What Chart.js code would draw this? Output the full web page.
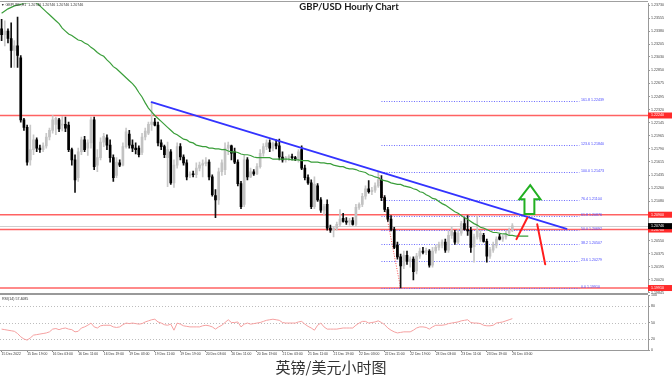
<!DOCTYPE html>
<html>
<head>
<meta charset="utf-8">
<script src="https://cdn.jsdelivr.net/npm/chart.js@4.4.1/dist/chart.umd.min.js"></script>
<style>
  body { margin: 0; background: #fff; }
  #wrap { position: relative; width: 672px; height: 385px; overflow: hidden; background: #fff; }
  #main { position: absolute; left: 0; top: 0; }
  #rsi { position: absolute; left: 0; top: 288px; }
  #title { position: absolute; top: 2px; left: 349px; transform: translateX(-50%); font: bold 9.5px Lato, sans-serif; line-height: 10px; color: #1a1a1a; white-space: nowrap; }
  #caption { position: absolute; top: 358px; left: 331px; transform: translateX(-50%); font: 15px "Noto Sans CJK SC", sans-serif; line-height: 18px; color: #333; white-space: nowrap; }
</style>
</head>
<body>
<div id="wrap">
  <canvas id="main" width="672" height="296"></canvas>
  <canvas id="rsi" width="672" height="70"></canvas>
  <div id="title">GBP/USD Hourly Chart</div>
  <div id="caption">英镑/美元小时图</div>
</div>
<script>
// hourly bars, 15 Dec 11:00 .. 26 Dec 03:00, plus empty room on the right
const SLOTS = 203;
const xTickLabels = ['15 Dec 2022', '15 Dec 19:00', '16 Dec 03:00', '16 Dec 11:00', '16 Dec 19:00',
  '19 Dec 03:00', '19 Dec 11:00', '19 Dec 19:00', '20 Dec 03:00', '20 Dec 11:00', '20 Dec 19:00',
  '21 Dec 03:00', '21 Dec 11:00', '21 Dec 19:00', '22 Dec 03:00', '22 Dec 11:00', '22 Dec 19:00',
  '23 Dec 03:00', '23 Dec 11:00', '23 Dec 19:00', '26 Dec 03:00'];

const opens = [
  1.2341,1.2333,1.2338,1.2328,1.2312,1.2318,1.2302,1.2218,1.2208,1.2164,
  1.2178,1.2191,1.2180,1.2178,1.2183,1.2195,1.2204,1.2212,1.2218,1.2211,
  1.2212,1.2211,1.2178,1.2164,1.2140,1.2175,1.2191,1.2180,1.2187,1.2218,
  1.2157,1.2167,1.2188,1.2194,1.2184,1.2167,1.2143,1.2160,1.2157,1.2182,
  1.2199,1.2184,1.2180,1.2180,1.2174,1.2195,1.2200,1.2212,1.2215,1.2211,
  1.2187,1.2182,1.2167,1.2175,1.2133,1.2157,1.2182,1.2168,1.2160,1.2143,
  1.2145,1.2144,1.2153,1.2157,1.2159,1.2161,1.2141,1.2116,1.2110,1.2148,
  1.2151,1.2180,1.2183,1.2175,1.2161,1.2132,1.2104,1.2164,1.2141,1.2148,
  1.2145,1.2155,1.2173,1.2182,1.2187,1.2180,1.2186,1.2183,1.2168,1.2164,
  1.2167,1.2168,1.2167,1.2165,1.2178,1.2153,1.2140,1.2133,1.2101,1.2129,
  1.2110,1.2096,1.2104,1.2072,1.2069,1.2072,1.2077,1.2085,1.2081,1.2080,
  1.2082,1.2077,1.2100,1.2104,1.2115,1.2125,1.2121,1.2123,1.2129,1.2137,
  1.2113,1.2097,1.2084,1.2070,1.2049,1.2033,1.2021,1.2035,1.2027,1.2030,
  1.2014,1.2034,1.2041,1.2039,1.2041,1.2022,1.2041,1.2046,1.2049,1.2053,
  1.2042,1.2062,1.2066,1.2053,1.2065,1.2078,1.2070,1.2069,1.2047,1.2060,
  1.2057,1.2062,1.2054,1.2034,1.2042,1.2049,1.2060,1.2057,1.2060,1.2065,
  1.2070];
const highs = [
  1.2354,1.2352,1.2341,1.2349,1.2325,1.2357,1.2305,1.2220,1.2211,1.2211,
  1.2198,1.2194,1.2184,1.2187,1.2200,1.2207,1.2224,1.2222,1.2220,1.2223,
  1.2222,1.2215,1.2180,1.2171,1.2180,1.2195,1.2196,1.2191,1.2222,1.2222,
  1.2178,1.2194,1.2200,1.2198,1.2191,1.2171,1.2167,1.2164,1.2187,1.2207,
  1.2204,1.2191,1.2187,1.2183,1.2200,1.2207,1.2215,1.2242,1.2220,1.2215,
  1.2191,1.2184,1.2188,1.2178,1.2164,1.2187,1.2186,1.2171,1.2164,1.2148,
  1.2149,1.2160,1.2161,1.2164,1.2167,1.2164,1.2144,1.2124,1.2153,1.2164,
  1.2187,1.2188,1.2184,1.2180,1.2164,1.2135,1.2171,1.2167,1.2153,1.2151,
  1.2159,1.2178,1.2186,1.2191,1.2191,1.2188,1.2191,1.2192,1.2175,1.2169,
  1.2171,1.2172,1.2169,1.2178,1.2183,1.2157,1.2144,1.2137,1.2141,1.2132,
  1.2113,1.2104,1.2110,1.2076,1.2074,1.2080,1.2097,1.2092,1.2086,1.2085,
  1.2086,1.2104,1.2106,1.2119,1.2129,1.2136,1.2127,1.2133,1.2148,1.2143,
  1.2116,1.2100,1.2089,1.2073,1.2053,1.2037,1.2041,1.2041,1.2033,1.2033,
  1.2038,1.2045,1.2046,1.2045,1.2043,1.2046,1.2049,1.2053,1.2056,1.2057,
  1.2068,1.2073,1.2069,1.2070,1.2081,1.2086,1.2089,1.2073,1.2064,1.2088,
  1.2069,1.2065,1.2057,1.2046,1.2053,1.2060,1.2064,1.2062,1.2068,1.2072,
  1.2078];
const lows = [
  1.2325,1.2318,1.2322,1.2289,1.2289,1.2289,1.2215,1.2204,1.2157,1.2157,
  1.2171,1.2175,1.2174,1.2175,1.2180,1.2191,1.2200,1.2198,1.2202,1.2203,
  1.2202,1.2175,1.2157,1.2120,1.2135,1.2171,1.2175,1.2170,1.2180,1.2151,
  1.2148,1.2164,1.2182,1.2178,1.2161,1.2135,1.2140,1.2155,1.2156,1.2180,
  1.2180,1.2175,1.2172,1.2168,1.2171,1.2191,1.2198,1.2204,1.2210,1.2183,
  1.2178,1.2167,1.2128,1.2131,1.2127,1.2153,1.2164,1.2157,1.2137,1.2140,
  1.2141,1.2140,1.2149,1.2141,1.2156,1.2137,1.2115,1.2086,1.2104,1.2143,
  1.2144,1.2171,1.2164,1.2159,1.2129,1.2098,1.2101,1.2137,1.2140,1.2143,
  1.2144,1.2153,1.2169,1.2178,1.2175,1.2176,1.2179,1.2164,1.2161,1.2161,
  1.2163,1.2164,1.2163,1.2161,1.2151,1.2137,1.2131,1.2098,1.2098,1.2108,
  1.2093,1.2090,1.2069,1.2066,1.2060,1.2069,1.2074,1.2080,1.2077,1.2076,
  1.2076,1.2074,1.2097,1.2101,1.2111,1.2119,1.2117,1.2120,1.2127,1.2109,
  1.2094,1.2081,1.2068,1.2044,1.2030,1.1991,1.2017,1.2023,1.2019,1.2002,
  1.2010,1.2031,1.2037,1.2036,1.2019,1.2019,1.2038,1.2042,1.2045,1.2039,
  1.2039,1.2058,1.2050,1.2051,1.2062,1.2069,1.2062,1.2039,1.2026,1.2057,
  1.2054,1.2053,1.2026,1.2031,1.2039,1.2045,1.2056,1.2054,1.2057,1.2062,
  1.2067];
const closes = [
  1.2333,1.2338,1.2328,1.2312,1.2318,1.2305,1.2218,1.2208,1.2161,1.2178,
  1.2191,1.2180,1.2178,1.2183,1.2195,1.2204,1.2218,1.2220,1.2206,1.2212,
  1.2207,1.2178,1.2164,1.2137,1.2175,1.2191,1.2178,1.2187,1.2218,1.2155,
  1.2167,1.2188,1.2196,1.2184,1.2167,1.2140,1.2161,1.2157,1.2182,1.2202,
  1.2184,1.2180,1.2178,1.2171,1.2195,1.2203,1.2212,1.2215,1.2211,1.2187,
  1.2182,1.2171,1.2178,1.2133,1.2157,1.2182,1.2168,1.2160,1.2141,1.2145,
  1.2144,1.2153,1.2157,1.2159,1.2161,1.2141,1.2117,1.2110,1.2148,1.2160,
  1.2180,1.2184,1.2173,1.2161,1.2132,1.2101,1.2164,1.2141,1.2148,1.2145,
  1.2155,1.2173,1.2182,1.2187,1.2180,1.2186,1.2183,1.2168,1.2164,1.2167,
  1.2168,1.2167,1.2165,1.2175,1.2153,1.2140,1.2133,1.2101,1.2131,1.2110,
  1.2096,1.2101,1.2072,1.2069,1.2072,1.2077,1.2084,1.2081,1.2080,1.2082,
  1.2077,1.2100,1.2104,1.2115,1.2125,1.2121,1.2123,1.2129,1.2137,1.2113,
  1.2097,1.2084,1.2070,1.2046,1.2033,1.2021,1.2035,1.2027,1.2030,1.2013,
  1.2034,1.2041,1.2039,1.2042,1.2022,1.2041,1.2046,1.2050,1.2053,1.2042,
  1.2062,1.2069,1.2053,1.2065,1.2078,1.2070,1.2068,1.2046,1.2060,1.2069,
  1.2065,1.2054,1.2034,1.2043,1.2050,1.2057,1.2057,1.2060,1.2064,1.2069,
  1.2075];

// green moving average (runs a few bars past the last candle)
const maValues = [
  1.2362,1.2365,1.2368,1.2370,1.2372,1.2373,1.2374,1.2376,1.2376,1.2377,
  1.2377,1.2376,1.2372,1.2368,1.2364,1.2360,1.2356,1.2352,1.2348,1.2342,
  1.2338,1.2334,1.2332,1.2329,1.2326,1.2325,1.2322,1.2320,1.2316,1.2313,
  1.2309,1.2306,1.2304,1.2299,1.2295,1.2290,1.2287,1.2283,1.2279,1.2275,
  1.2271,1.2267,1.2262,1.2255,1.2249,1.2241,1.2234,1.2229,1.2224,1.2220,
  1.2216,1.2212,1.2208,1.2204,1.2200,1.2198,1.2195,1.2192,1.2191,1.2188,
  1.2187,1.2184,1.2183,1.2182,1.2182,1.2180,1.2180,1.2179,1.2179,1.2178,
  1.2178,1.2176,1.2175,1.2175,1.2174,1.2172,1.2171,1.2171,1.2170,1.2168,
  1.2167,1.2167,1.2167,1.2167,1.2167,1.2165,1.2165,1.2165,1.2165,1.2165,
  1.2165,1.2164,1.2164,1.2164,1.2163,1.2163,1.2163,1.2161,1.2161,1.2161,
  1.2160,1.2160,1.2159,1.2159,1.2157,1.2156,1.2155,1.2155,1.2153,1.2152,
  1.2152,1.2151,1.2149,1.2148,1.2147,1.2144,1.2143,1.2141,1.2140,1.2137,
  1.2136,1.2135,1.2133,1.2132,1.2131,1.2131,1.2129,1.2128,1.2127,1.2125,
  1.2124,1.2121,1.2120,1.2117,1.2115,1.2112,1.2111,1.2108,1.2105,1.2103,
  1.2100,1.2097,1.2094,1.2092,1.2089,1.2086,1.2084,1.2081,1.2078,1.2076,
  1.2073,1.2072,1.2070,1.2068,1.2066,1.2066,1.2065,1.2064,1.2064,1.2062,
  1.2062,1.2061,1.2061,1.2061,1.2061,1.2061];

const rsiValues = [
  38,37,36,35,34,30,24,20,18,22,
  27,28,29,30,31,33,38,39,37,39,
  40,38,37,33,34,40,42,45,49,42,
  40,44,45,45,45,42,41,42,46,49,
  48,49,48,47,48,51,53,55,56,51,
  49,46,45,47,36,49,47,44,43,42,
  42,42,42,44,45,44,42,38,42,45,
  50,55,50,50,51,42,47,49,47,48,
  49,50,52,54,55,56,55,54,50,49,
  49,49,49,51,52,47,43,40,36,45,
  49,42,38,38,38,38,39,40,40,40,
  40,45,49,52,52,49,50,51,53,50,
  46,40,36,33,31,32,33,33,33,36,
  40,42,42,41,38,42,45,45,45,46,
  48,49,50,51,53,54,55,50,49,49,
  48,45,44,44,45,49,50,51,53,55,
  57];

const yTickValues = [1.23730, 1.23555, 1.23380, 1.23205, 1.23030, 1.22850, 1.22675, 1.22495,
  1.22320, 1.22145, 1.21965, 1.21790, 1.21615, 1.21435, 1.21260, 1.21080, 1.20905, 1.20725,
  1.20550, 1.20375, 1.20195, 1.20020, 1.19845];
const rsiTickValues = [0, 20, 50, 80, 100];
const rsiLevels = [20, 50, 80];

// drawn objects, in (bar index, price)
const redLevels = [1.22240, 1.20900, 1.20700, 1.19910];
const lastPrice = 1.20746;
const fibNames = ['0.0', '23.6', '38.2', '50.0', '61.8', '76.4', '100.0', '123.6', '161.8'];
const fibPrices = [1.19910, 1.20279, 1.20507, 1.20692, 1.20876, 1.21104, 1.21473, 1.21840, 1.22439];
const fibStart = 119, fibEnd = 181;
const fibSwing = [[118, 1.21473], [125, 1.19910]];
const trendLine = [[47, 1.2242], [177, 1.2071]];
const redStrokes = [[[161.3, 1.2057], [164.7, 1.2086]], [[167.8, 1.2077], [170.3, 1.2023]]];
const greenArrow = [[165.6, 1.2130], [168.8, 1.2111], [166.9, 1.2111], [166.9, 1.2091],
  [163.8, 1.2091], [163.8, 1.2111], [162.2, 1.2111]];

const labels = Array.from({ length: SLOTS }, (_, i) => (i % 8 === 0 && xTickLabels[i / 8]) ? xTickLabels[i / 8] : '');
const isBull = i => closes[i] >= opens[i];
const small = size => ({ family: 'Liberation Sans', size: size });

function hline(ctx, x0, x1, y) {
  ctx.beginPath();
  ctx.moveTo(x0, y);
  ctx.lineTo(x1, y);
  ctx.stroke();
}

const mainDecor = {
  id: 'mainDecor',
  beforeDatasetsDraw(chart) {
    const { ctx, chartArea: a, scales: { x, y } } = chart;
    ctx.save();
    ctx.beginPath();
    ctx.rect(a.left, a.top, a.right - a.left, a.bottom - a.top);
    ctx.clip();

    ctx.strokeStyle = '#cfcfcf';
    ctx.lineWidth = 1;
    hline(ctx, a.left, a.right, Math.round(y.getPixelForValue(lastPrice)) + 0.5);

    ctx.strokeStyle = 'rgba(255,70,70,0.85)';
    ctx.lineWidth = 1.6;
    redLevels.forEach(p => hline(ctx, a.left, a.right, y.getPixelForValue(p)));

    // fibonacci levels
    ctx.setLineDash([1, 1.5]);
    ctx.strokeStyle = '#6b6bff';
    ctx.lineWidth = 1;
    fibPrices.forEach(p => hline(ctx, x.getPixelForValue(fibStart), x.getPixelForValue(fibEnd),
      Math.round(y.getPixelForValue(p)) + 0.5));
    ctx.strokeStyle = '#ff5050';
    ctx.beginPath();
    ctx.moveTo(x.getPixelForValue(fibSwing[0][0]), y.getPixelForValue(fibSwing[0][1]));
    ctx.lineTo(x.getPixelForValue(fibSwing[1][0]), y.getPixelForValue(fibSwing[1][1]));
    ctx.stroke();
    ctx.setLineDash([]);

    ctx.fillStyle = '#4a4aff';
    ctx.font = '3.6px "Liberation Sans"';
    ctx.textBaseline = 'middle';
    fibPrices.forEach((p, k) => {
      ctx.fillText(fibNames[k] + ' ' + p.toFixed(5), x.getPixelForValue(fibEnd + 0.5), y.getPixelForValue(p) - 1);
    });
    ctx.restore();
  },
  afterDatasetsDraw(chart) {
    const { ctx, chartArea: a, scales: { x, y } } = chart;
    const pt = q => [x.getPixelForValue(q[0]), y.getPixelForValue(q[1])];
    ctx.save();
    ctx.lineCap = 'round';

    ctx.strokeStyle = '#3333ff';
    ctx.lineWidth = 1.8;
    ctx.beginPath();
    ctx.moveTo(...pt(trendLine[0]));
    ctx.lineTo(...pt(trendLine[1]));
    ctx.stroke();

    ctx.strokeStyle = '#ff1c1c';
    ctx.lineWidth = 2;
    redStrokes.forEach(s => {
      ctx.beginPath();
      ctx.moveTo(...pt(s[0]));
      ctx.lineTo(...pt(s[1]));
      ctx.stroke();
    });

    ctx.strokeStyle = '#22b022';
    ctx.lineWidth = 2;
    ctx.lineJoin = 'miter';
    ctx.beginPath();
    greenArrow.forEach((q, k) => k ? ctx.lineTo(...pt(q)) : ctx.moveTo(...pt(q)));
    ctx.closePath();
    ctx.fillStyle = '#fff';
    ctx.fill();
    ctx.stroke();
    ctx.restore();
  },
  afterDraw(chart) {
    const { ctx, chartArea: a, scales: { y } } = chart;
    ctx.save();
    ctx.strokeStyle = '#a0a0a0';
    ctx.lineWidth = 1;
    hline(ctx, 0, a.right, 1.5);

    ctx.font = '3.6px "Liberation Sans"';
    ctx.textBaseline = 'middle';
    const box = (p, bg) => {
      const yy = y.getPixelForValue(p);
      ctx.fillStyle = bg;
      ctx.fillRect(a.right, yy - 3, 24, 6);
      ctx.fillStyle = '#fff';
      ctx.fillText(p.toFixed(5), a.right + 3, yy);
    };
    redLevels.forEach(p => box(p, '#ff2a2a'));
    box(lastPrice, '#000');

    ctx.fillStyle = '#333';
    const lp = lastPrice.toFixed(5);
    ctx.fillText('\u25BC GBPUSD,H1  ' + [lp, lp, lp, lp].join(' '), 1, 5);
    ctx.restore();
  }
};

new Chart(document.getElementById('main'), {
  type: 'bar',
  data: {
    labels: labels,
    datasets: [
      {
        type: 'line',
        data: maValues,
        borderColor: '#3a9e3a',
        borderWidth: 1.2,
        pointRadius: 0,
        tension: 0,
        order: 0
      },
      {
        data: opens.map((o, i) => [o, closes[i]]),
        backgroundColor: ctx => isBull(ctx.dataIndex) ? '#c2c2c2' : '#000',
        barThickness: 2,
        minBarLength: 1,
        grouped: false,
        borderWidth: 0,
        order: 1
      },
      {
        data: lows.map((l, i) => [l, highs[i]]),
        backgroundColor: ctx => isBull(ctx.dataIndex) ? '#c8c8c8' : '#111',
        barThickness: 1,
        grouped: false,
        borderWidth: 0,
        order: 2
      }
    ]
  },
  options: {
    responsive: false,
    animation: false,
    layout: { padding: { top: 2, bottom: 2, left: 0, right: 0 } },
    plugins: {
      legend: { display: false },
      tooltip: { enabled: false }
    },
    scales: {
      x: { display: false, offset: true },
      y: {
        position: 'right',
        min: 1.19845,
        max: 1.23757,
        afterBuildTicks: s => { s.ticks = yTickValues.map(v => ({ value: v })); },
        afterFit: s => { s.width = 24; },
        ticks: {
          autoSkip: false,
          font: small(3.6),
          color: '#444',
          padding: 1,
          callback: v => Number(v).toFixed(5)
        },
        grid: { drawOnChartArea: false, tickLength: 2, color: '#999' },
        border: { color: '#999' }
      }
    }
  },
  plugins: [mainDecor]
});

const rsiDecor = {
  id: 'rsiDecor',
  beforeDatasetsDraw(chart) {
    const { ctx, chartArea: a, scales: { y } } = chart;
    ctx.save();
    ctx.setLineDash([1, 2]);
    ctx.strokeStyle = '#bdbdbd';
    ctx.lineWidth = 1;
    rsiLevels.forEach(v => hline(ctx, a.left, a.right, Math.round(y.getPixelForValue(v)) + 0.5));
    ctx.restore();
  },
  afterDraw(chart) {
    const { ctx, chartArea: a } = chart;
    ctx.save();
    ctx.strokeStyle = '#999';
    ctx.lineWidth = 2;
    hline(ctx, 0, a.right, a.top - 1);
    ctx.fillStyle = '#333';
    ctx.font = '3.6px "Liberation Sans"';
    ctx.textBaseline = 'middle';
    ctx.fillText('RSI(14) ' + '57.4085', 2, a.top + 4);
    ctx.restore();
  }
};

new Chart(document.getElementById('rsi'), {
  type: 'line',
  data: {
    labels: labels,
    datasets: [{
      data: rsiValues,
      borderColor: '#f5a0a0',
      borderWidth: 1,
      pointRadius: 0,
      tension: 0
    }]
  },
  options: {
    responsive: false,
    animation: false,
    layout: { padding: { top: 7, bottom: 0, left: 0, right: 0 } },
    plugins: {
      legend: { display: false },
      tooltip: { enabled: false }
    },
    scales: {
      x: {
        offset: true,
        afterFit: s => { s.height = 8; },
        ticks: {
          autoSkip: false,
          maxRotation: 0,
          minRotation: 0,
          align: 'start',
          padding: 0,
          font: small(3.4),
          color: '#333'
        },
        grid: {
          drawOnChartArea: false,
          offset: false,
          tickLength: 2,
          color: ctx => labels[ctx.index] ? '#888' : 'rgba(0,0,0,0)'
        },
        border: { color: '#999' }
      },
      y: {
        position: 'right',
        min: 0,
        max: 100,
        afterBuildTicks: s => { s.ticks = rsiTickValues.map(v => ({ value: v })); },
        afterFit: s => { s.width = 24; },
        ticks: { font: small(3.6), color: '#444', padding: 1 },
        grid: { drawOnChartArea: false, tickLength: 2, color: '#999' },
        border: { color: '#999' }
      }
    }
  },
  plugins: [rsiDecor]
});
</script>
</body>
</html>
